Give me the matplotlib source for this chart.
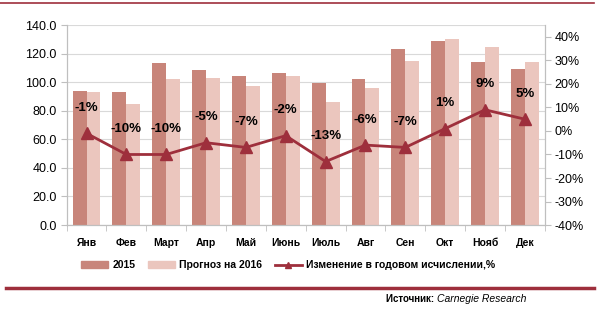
import matplotlib
matplotlib.use("Agg")
import matplotlib.pyplot as plt
import numpy as np
from matplotlib.lines import Line2D
from matplotlib.patches import Patch

# Data
months = ["Янв", "Фев", "Март", "Апр", "Май", "Июнь", "Июль", "Авг", "Сен", "Окт", "Нояб", "Дек"]
values_2015 = [94, 93.3, 113.6, 108.7, 104.5, 106.4, 99.6, 102, 123, 128.6, 113.9, 109]
forecast_2016 = [93.3, 84.7, 102, 102.9, 97.3, 104.5, 86.3, 96.1, 114.8, 130, 124.6, 114.3]
yoy_change = [-1, -10, -10, -5, -7, -2, -13, -6, -7, 1, 9, 5]

C2015 = "#c8857a"
C2016 = "#ebc6be"
CLINE = "#9e2f3c"
GRID = "#d9d9d9"

narrow = ["Liberation Sans", "DejaVu Sans"]

fig = plt.figure(figsize=(6, 3.1), dpi=100)
ax = fig.add_axes([0.111, 0.274, 0.797, 0.645])
ax2 = ax.twinx()

x = np.arange(len(months))
w = 0.35
ax.bar(x - w / 2, values_2015, w, color=C2015, zorder=2)
ax.bar(x + w / 2, forecast_2016, w, color=C2016, zorder=2)

ax.set_xlim(-0.5, len(months) - 0.5)
ax.set_ylim(0, 140)
ax.set_yticks(np.arange(0, 141, 20))
ax.set_yticklabels([f"{v:.1f}" for v in np.arange(0, 141, 20)], fontsize=9, family=narrow)
ax.yaxis.grid(True, color=GRID, linewidth=0.8, zorder=0)
ax.set_axisbelow(True)
ax.set_xticks(x)
ax.set_xticklabels(months, fontsize=7.5, fontweight="bold", family=narrow)
ax.set_xticks(np.arange(-0.5, len(months), 1), minor=True)
ax.tick_params(axis="x", which="major", length=0, pad=9)
ax.tick_params(axis="x", which="minor", length=4, color="#bfbfbf")
ax.tick_params(axis="y", length=4, color="#bfbfbf", pad=3)

ax2.plot(x, yoy_change, color=CLINE, linewidth=2, marker="^", markersize=9, zorder=3)
ax2.set_ylim(-40, 45)
ax2.set_yticks(np.arange(-40, 41, 10))
ax2.set_yticklabels([f"{v}%" for v in range(-40, 41, 10)], fontsize=9, family=narrow)
ax2.tick_params(axis="y", length=4, color="#bfbfbf", pad=3)
for xi, v in zip(x, yoy_change):
    ax2.annotate(f"{v}%", (xi, v), xytext=(0, 14), textcoords="offset points",
                 ha="center", va="bottom", fontsize=9.5, fontweight="bold", family=narrow)

for a in (ax, ax2):
    a.spines["top"].set_visible(False)
    for s in ("left", "right", "bottom"):
        a.spines[s].set_color("#bfbfbf")

handles = [Patch(color=C2015), Patch(color=C2016),
           Line2D([0], [0], color=CLINE, linewidth=2, marker="^", markersize=5)]
labels = ["2015", "Прогноз на 2016", "Изменение в годовом исчислении,%"]
fig.legend(handles, labels, loc="center", bbox_to_anchor=(0.48, 0.145), ncol=3,
           frameon=False, prop={"family": narrow, "weight": "bold", "size": 7.5},
           handlelength=2.6, handleheight=0.6, columnspacing=1.2, handletextpad=0.4)

# top and bottom rules
fig.add_artist(Line2D([0.0, 0.99], [0.99, 0.99], color=CLINE, linewidth=1.2))
fig.add_artist(Line2D([0.01, 0.99], [0.07, 0.07], color=CLINE, linewidth=2.5))
fig.text(0.728, 0.035, "Источник: ", ha="right", va="center", fontsize=7,
         family=narrow, fontweight="bold")
fig.text(0.728, 0.035, "Carnegie Research", ha="left", va="center", fontsize=7.5,
         style="italic", family=narrow)

fig.savefig("out.png", dpi=100)
